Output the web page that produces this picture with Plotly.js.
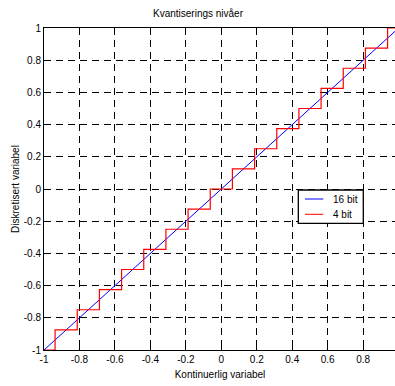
<!DOCTYPE html>
<html>
<head>
<meta charset="utf-8">
<script src="https://cdn.plot.ly/plotly-3.0.1.min.js"></script>
<style>
html,body{margin:0;padding:0;overflow:hidden;background:#fff;}
#chart{width:396px;height:386px;}
</style>
</head>
<body>
<div id="chart"></div>
<script>
// 16 bit: essentially the identity line
var x16 = [-1, 1];
var y16 = [-1, 1];

// 4 bit: staircase (step start x, quantised level)
var x4 = [-1, -0.9375, -0.8125, -0.6875, -0.5625, -0.4375, -0.3125, -0.1875, -0.0625,
          0.0625, 0.1875, 0.3125, 0.4375, 0.5625, 0.6875, 0.8125, 0.9375, 1];
var y4 = [-1, -0.875, -0.75, -0.625, -0.5, -0.375, -0.25, -0.125, 0,
          0.125, 0.25, 0.375, 0.5, 0.625, 0.75, 0.875, 1, 1];

var xTickVals = [-1, -0.8, -0.6, -0.4, -0.2, 0, 0.2, 0.4, 0.6, 0.8, 1];
var xTickText = ["-1", "-0.8", "-0.6", "-0.4", "-0.2", "0", "0.2", "0.4", "0.6", "0.8", "1"];
var yTickVals = [-1, -0.8, -0.6, -0.4, -0.2, 0, 0.2, 0.4, 0.6, 0.8, 1];
var yTickText = ["-1", "-0.8", "-0.6", "-0.4", "-0.2", "0", "0.2", "0.4", "0.6", "0.8", "1"];

var seriesNames = ["16 bit", "4 bit"];
var seriesColors = ["#0000ff", "#ff0000"];

var font = "Liberation Sans, Arial, sans-serif";

var traces = [
  {x: x16, y: y16, mode: "lines", name: seriesNames[0],
   line: {color: seriesColors[0], width: 1}},
  {x: x4, y: y4, mode: "lines", name: seriesNames[1],
   line: {color: seriesColors[1], width: 1.2, shape: "hv"}}
];

var axisCommon = {
  showline: true, mirror: "ticks", linecolor: "#000", linewidth: 1,
  ticks: "inside", ticklen: 4, tickcolor: "#000", tickwidth: 1,
  showgrid: true, gridcolor: "#000", gridwidth: 1, griddash: "7px,5px",
  zeroline: false,
  tickfont: {family: font, size: 10, color: "#000"}
};

// legend box (paper coordinates), drawn in MATLAB style
var leg = {x0: 0.7225, x1: 0.9071, y0: 0.3935, y1: 0.4969,
           lx0: 0.7415, lx1: 0.7935, tx: 0.8145, rows: [0.4689, 0.4214]};

var shapes = [
  {type: "rect", xref: "paper", yref: "paper", x0: leg.x0, x1: leg.x1, y0: leg.y0, y1: leg.y1,
   fillcolor: "#fff", line: {color: "#000", width: 1.3}, layer: "above"}
];
var annotations = [];
for (var i = 0; i < seriesNames.length; i++) {
  shapes.push({type: "line", xref: "paper", yref: "paper", x0: leg.lx0, x1: leg.lx1,
               y0: leg.rows[i], y1: leg.rows[i], line: {color: seriesColors[i], width: 1}, layer: "above"});
  annotations.push({xref: "paper", yref: "paper", x: leg.tx, y: leg.rows[i], xanchor: "left", yanchor: "middle",
                    text: seriesNames[i], showarrow: false, font: {family: font, size: 10, color: "#000"}});
}

var layout = {
  width: 396, height: 386,
  margin: {l: 44, r: 0, t: 28, b: 36},
  paper_bgcolor: "#fff", plot_bgcolor: "#fff",
  font: {family: font, size: 10, color: "#000"},
  title: {text: "Kvantiserings nivåer", font: {family: font, size: 10, color: "#000"},
          x: 0.5, xanchor: "center", y: 1, yanchor: "top", yref: "container", pad: {t: 10}},
  xaxis: Object.assign({}, axisCommon, {
    range: [-1, 0.985], tickvals: xTickVals, ticktext: xTickText,
    title: {text: "Kontinuerlig variabel", font: {family: font, size: 10, color: "#000"}, standoff: 6}
  }),
  yaxis: Object.assign({}, axisCommon, {
    range: [-1, 1], tickvals: yTickVals, ticktext: yTickText,
    title: {text: "Diskretisert variabel", font: {family: font, size: 10, color: "#000"}, standoff: 2}
  }),
  showlegend: false,
  shapes: shapes,
  annotations: annotations
};

Plotly.newPlot("chart", traces, layout, {staticPlot: true, displayModeBar: false});
</script>
</body>
</html>
